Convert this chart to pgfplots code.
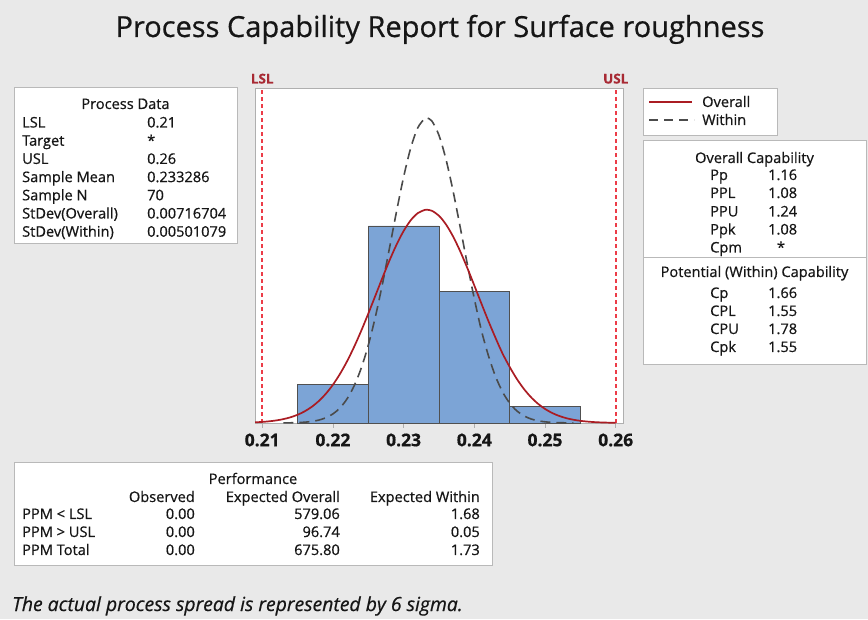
\documentclass[border=0pt]{standalone}
\usepackage{pgfplots}
\pgfplotsset{compat=1.18}
\usepackage{fontspec}
\setmainfont{Open Sans}[FakeBold=0.6]
\definecolor{bg}{RGB}{233,233,233}
\definecolor{barblue}{RGB}{124,164,214}
\definecolor{baredge}{RGB}{80,80,80}
\definecolor{overallred}{RGB}{170,28,35}
\definecolor{withingray}{RGB}{75,75,75}
\definecolor{specred}{RGB}{236,60,72}
\definecolor{speclabel}{RGB}{168,42,52}
\definecolor{framegray}{RGB}{175,175,175}
\definecolor{boxgray}{RGB}{185,185,185}
\definecolor{textc}{RGB}{22,22,22}
\begin{document}
\begin{tikzpicture}
\fill[bg] (0,0) rectangle (868pt,619pt);
\begin{axis}[
  at={(255pt,196pt)}, anchor=south west,
  scale only axis, width=368pt, height=335pt,
  xmin=0.20898, xmax=0.26103, ymin=0, ymax=61.2,
  axis line style={framegray, line width=0.8pt},
  axis background/.style={fill=white},
  xtick={0.21,0.22,0.23,0.24,0.25,0.26},
  xticklabels={0.21,0.22,0.23,0.24,0.25,0.26},
  ytick=\empty,
  xtick pos=lower, tick align=outside, major tick length=5pt,
  tick style={framegray, line width=0.8pt},
  xticklabel style={font=\fontsize{17.5}{17.5}\selectfont\bfseries, text=textc, yshift=-2pt},
  clip=false,
]
\addplot[ybar interval, fill=barblue, draw=baredge, line width=0.6pt]
  coordinates {(0.215,7) (0.225,36) (0.235,24) (0.245,3) (0.255,3)};
\addplot[specred, line width=1.8pt, dash pattern=on 4pt off 3pt]
  coordinates {(0.21,0) (0.21,61.2)};
\addplot[specred, line width=1.8pt, dash pattern=on 4pt off 3pt]
  coordinates {(0.26,0) (0.26,61.2)};
\addplot[withingray, line width=1.6pt, dash pattern=on 10pt off 6pt, smooth] coordinates {
(0.213,0.015) (0.214,0.034) (0.215,0.072) (0.216,0.145) (0.217,0.283) (0.218,0.531)
(0.219,0.957) (0.220,1.658) (0.221,2.759) (0.222,4.412) (0.223,6.778) (0.224,10.007)
(0.225,14.201) (0.226,19.365) (0.227,25.372) (0.228,31.948) (0.229,38.658) (0.230,44.948)
(0.231,50.222) (0.232,53.924) (0.233,55.639) (0.233286,55.73) (0.234,55.167) (0.235,52.563)
(0.236,48.126) (0.237,42.345) (0.238,35.803) (0.239,29.089) (0.240,22.710) (0.241,16.928)
(0.242,12.285) (0.243,8.511) (0.244,5.667) (0.245,3.626) (0.246,2.229) (0.247,1.317)
(0.248,0.747) (0.249,0.408) (0.250,0.214) (0.251,0.108) (0.252,0.052) (0.254,0.011)
};
\addplot[overallred, line width=1.7pt, smooth] coordinates {
(0.209,0.125) (0.210,0.199) (0.211,0.310) (0.212,0.473) (0.213,0.709) (0.214,1.043)
(0.215,1.503) (0.216,2.126) (0.217,2.948) (0.218,4.008) (0.219,5.344) (0.220,6.988)
(0.221,8.965) (0.222,11.275) (0.223,13.911) (0.224,16.830) (0.225,19.971) (0.226,23.240)
(0.227,26.521) (0.228,29.682) (0.229,32.581) (0.230,35.073) (0.231,37.027) (0.232,38.338)
(0.233,38.929) (0.233286,38.96) (0.234,38.767) (0.235,37.861) (0.236,36.264) (0.237,34.065)
(0.238,31.382) (0.239,28.352) (0.240,25.122) (0.241,21.831) (0.242,18.603) (0.243,15.550)
(0.244,12.667) (0.245,10.246) (0.246,8.078) (0.247,6.245) (0.248,4.736) (0.249,3.522)
(0.250,2.569) (0.251,1.837) (0.252,1.289) (0.253,0.887) (0.254,0.598) (0.255,0.396)
(0.256,0.257) (0.257,0.163) (0.258,0.102) (0.259,0.062) (0.260,0.037)
};
\node[anchor=base, yshift=4.5pt, inner sep=0pt, font=\fontsize{13.5}{13.5}\selectfont\bfseries, text=speclabel]
  at (axis cs:0.21,61.2) {LSL};
\node[anchor=base, yshift=4.5pt, inner sep=0pt, font=\fontsize{13.5}{13.5}\selectfont\bfseries, text=speclabel]
  at (axis cs:0.26,61.2) {USL};
\end{axis}
\begin{scope}[x=1pt, y=-1pt, yshift=619pt, text=textc, every node/.style={inner sep=0pt}]
% title
\node[anchor=base, font=\fontsize{29}{29}\selectfont] at (440,37) {Process Capability Report for Surface roughness};
% Process data box
\draw[boxgray, fill=white, line width=0.8pt] (14,87) rectangle (237,243);
\begin{scope}[font=\fontsize{14.6}{14.6}\selectfont]
\node[anchor=base] at (125.5,109) {Process Data};
\node[anchor=base west] at (22,127.5) {LSL};
\node[anchor=base west] at (22,145.7) {Target};
\node[anchor=base west] at (22,163.9) {USL};
\node[anchor=base west] at (22,182.1) {Sample Mean};
\node[anchor=base west] at (22,200.3) {Sample N};
\node[anchor=base west] at (22,218.5) {StDev(Overall)};
\node[anchor=base west] at (22,236.7) {StDev(Within)};
\node[anchor=base west] at (147,127.5) {0.21};
\node[anchor=base west] at (147,145.7) {*};
\node[anchor=base west] at (147,163.9) {0.26};
\node[anchor=base west] at (147,182.1) {0.233286};
\node[anchor=base west] at (147,200.3) {70};
\node[anchor=base west] at (147,218.5) {0.00716704};
\node[anchor=base west] at (147,236.7) {0.00501079};
% legend
\draw[boxgray, fill=white, line width=0.8pt] (643,88) rectangle (777,135);
\draw[overallred, line width=1.7pt] (649,102) -- (692,102);
\draw[withingray, line width=1.6pt, dash pattern=on 9pt off 6pt] (649,120) -- (694,120);
\node[anchor=base west] at (702,107) {Overall};
\node[anchor=base west] at (702,125) {Within};
% capability box
\draw[boxgray, fill=white, line width=0.8pt] (643,140) rectangle (866,364);
\draw[boxgray, line width=0.8pt] (643,257) -- (866,257);
\node[anchor=base] at (754.5,163) {Overall Capability};
\node[anchor=base west] at (710,180) {Pp};
\node[anchor=base west] at (710,198) {PPL};
\node[anchor=base west] at (710,216.5) {PPU};
\node[anchor=base west] at (710,234.5) {Ppk};
\node[anchor=base west] at (710,252.5) {Cpm};
\node[anchor=base west] at (768,180) {1.16};
\node[anchor=base west] at (768,198) {1.08};
\node[anchor=base west] at (768,216.5) {1.24};
\node[anchor=base west] at (768,234.5) {1.08};
\node[anchor=base] at (781,252.5) {*};
\node[anchor=base] at (754.5,277) {Potential (Within) Capability};
\node[anchor=base west] at (710,298) {Cp};
\node[anchor=base west] at (710,316) {CPL};
\node[anchor=base west] at (710,334) {CPU};
\node[anchor=base west] at (710,352) {Cpk};
\node[anchor=base west] at (768,298) {1.66};
\node[anchor=base west] at (768,316) {1.55};
\node[anchor=base west] at (768,334) {1.78};
\node[anchor=base west] at (768,352) {1.55};
% performance box
\draw[boxgray, fill=white, line width=0.8pt] (14,462) rectangle (492,565);
\node[anchor=base] at (253,484) {Performance};
\node[anchor=base east] at (195,502) {Observed};
\node[anchor=base east] at (340,502) {Expected Overall};
\node[anchor=base east] at (480,502) {Expected Within};
\node[anchor=base west] at (22,519) {PPM {\textless} LSL};
\node[anchor=base west] at (22,537) {PPM {\textgreater} USL};
\node[anchor=base west] at (22,555) {PPM Total};
\node[anchor=base east] at (195,519) {0.00};
\node[anchor=base east] at (195,537) {0.00};
\node[anchor=base east] at (195,555) {0.00};
\node[anchor=base east] at (340,519) {579.06};
\node[anchor=base east] at (340,537) {96.74};
\node[anchor=base east] at (340,555) {675.80};
\node[anchor=base east] at (480,519) {1.68};
\node[anchor=base east] at (480,537) {0.05};
\node[anchor=base east] at (480,555) {1.73};
\end{scope}
\node[anchor=base west, font=\fontsize{19.4}{19.4}\selectfont\itshape] at (12,611) {The actual process spread is represented by 6 sigma.};
\end{scope}
\useasboundingbox (0,0) rectangle (868pt,619pt);
\end{tikzpicture}
\end{document}
